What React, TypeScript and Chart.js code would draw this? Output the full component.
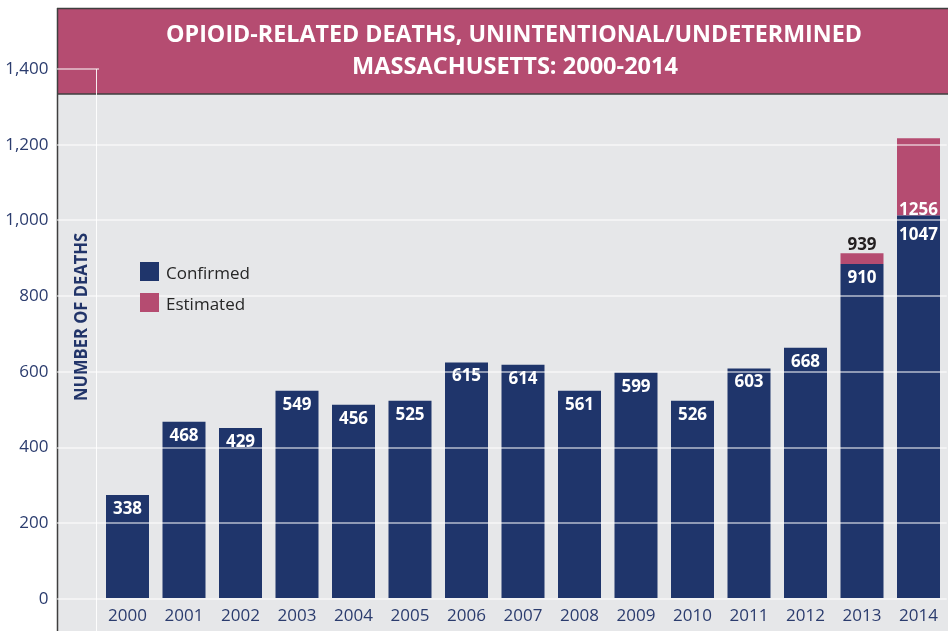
import { useEffect, useRef } from "react";
import { Chart, registerables } from "chart.js";

Chart.register(...registerables);

// ---- Data ----
const years = ["2000", "2001", "2002", "2003", "2004", "2005", "2006", "2007", "2008", "2009", "2010", "2011", "2012", "2013", "2014"];
// bar heights as drawn against the axis
const confirmedBars = [275, 468, 452, 550, 513, 524, 625, 619, 550, 598, 524, 609, 664, 885, 1013];
const estimatedBars = [null, null, null, null, null, null, null, null, null, null, null, null, null, 28, 204];
// numbers printed on the bars
const confirmedLabels = ["338", "468", "429", "549", "456", "525", "615", "614", "561", "599", "526", "603", "668", "910", "1047"];
const totalLabels = [null, null, null, null, null, null, null, null, null, null, null, null, null, "939", "1256"];
const yTicks = [0, 200, 400, 600, 800, 1000, 1200, 1400];
const titleLines = ["OPIOID-RELATED DEATHS, UNINTENTIONAL/UNDETERMINED", "MASSACHUSETTS: 2000-2014"];
const yTitle = "NUMBER OF DEATHS";
const seriesNames = ["Confirmed", "Estimated"];

const NAVY = "#1f356b";
const PINK = "#b54c71";
const AXIS_TEXT = "#2b3c6e";
const FONT = "'Open Sans', 'Noto Sans', sans-serif";

const framePlugin = {
  id: "frame",
  beforeDraw(chart: any) {
    const ctx = chart.ctx as CanvasRenderingContext2D;
    const W = chart.width;
    const H = chart.height;
    ctx.save();
    ctx.fillStyle = "#e6e7e9";
    ctx.fillRect(57, 94, W - 57, H - 94);
    ctx.fillStyle = PINK;
    ctx.fillRect(57, 8, W - 57, 86);
    // title
    ctx.fillStyle = "#ffffff";
    ctx.font = `bold 24px ${FONT}`;
    ctx.textAlign = "center";
    ctx.textBaseline = "alphabetic";
    ctx.fillText(titleLines[0], 514, 33 + 8.6, 696);
    ctx.fillText(titleLines[1], 515, 65 + 8.6, 326);
    // borders
    ctx.strokeStyle = "#3f3f3f";
    ctx.lineWidth = 1.5;
    ctx.beginPath();
    ctx.moveTo(57, 8.5);
    ctx.lineTo(W, 8.5);
    ctx.moveTo(57, 94);
    ctx.lineTo(W, 94);
    ctx.moveTo(57.5, 8);
    ctx.lineTo(57.5, H);
    ctx.stroke();
    ctx.restore();
  },
  afterDraw(chart: any) {
    const ctx = chart.ctx as CanvasRenderingContext2D;
    const H = chart.height;
    ctx.save();
    // inner vertical rule
    ctx.strokeStyle = "rgba(255,255,255,0.9)";
    ctx.lineWidth = 1;
    ctx.beginPath();
    ctx.moveTo(96.5, chart.scales.y.getPixelForValue(1400));
    ctx.lineTo(96.5, H);
    ctx.stroke();

    // y title
    ctx.save();
    ctx.translate(81, 317);
    ctx.rotate(-Math.PI / 2);
    ctx.fillStyle = "#213469";
    ctx.font = `bold 17px ${FONT}`;
    ctx.textAlign = "center";
    ctx.textBaseline = "alphabetic";
    ctx.fillText(yTitle, 0, 6, 168);
    ctx.restore();

    // legend
    const colors = [NAVY, PINK];
    ctx.font = `17px ${FONT}`;
    ctx.textAlign = "left";
    ctx.textBaseline = "alphabetic";
    seriesNames.forEach((name, i) => {
      const top = 262 + i * 31;
      ctx.fillStyle = colors[i];
      ctx.fillRect(140, top, 19, 19);
      ctx.fillStyle = "#262626";
      ctx.fillText(name, 166, top + 11 + 6);
    });

    // bar labels
    const m0 = chart.getDatasetMeta(0);
    const m1 = chart.getDatasetMeta(1);
    ctx.font = `bold 17px ${FONT}`;
    ctx.textAlign = "center";
    years.forEach((_, i) => {
      const bar = m0.data[i] as any;
      const x = bar.x;
      const boundary = bar.y;
      const total = totalLabels[i];
      const est = m1.data[i] as any;
      if (total && est && estimatedBars[i] != null) {
        const top = est.y;
        if (boundary - top > 30) {
          ctx.fillStyle = "#ffffff";
          ctx.fillText(total, x, boundary - 1);
          ctx.fillText(confirmedLabels[i], x, boundary + 24);
        } else {
          ctx.fillStyle = "#231f20";
          ctx.fillText(total, x, top - 3);
          ctx.fillStyle = "#ffffff";
          ctx.fillText(confirmedLabels[i], x, boundary + 19);
        }
      } else {
        ctx.fillStyle = "#ffffff";
        ctx.fillText(confirmedLabels[i], x, boundary + 19);
      }
    });
    ctx.restore();
  },
};

export default function App() {
  const ref = useRef<HTMLCanvasElement | null>(null);
  useEffect(() => {
    if (!ref.current) return;
    const chart = new Chart(ref.current, {
      type: "bar",
      data: {
        labels: years,
        datasets: [
          {
            label: seriesNames[0],
            data: confirmedBars,
            backgroundColor: NAVY,
            borderWidth: 0,
            categoryPercentage: 1,
            barPercentage: 0.761,
          },
          {
            label: seriesNames[1],
            data: estimatedBars as any,
            backgroundColor: PINK,
            borderWidth: 0,
            categoryPercentage: 1,
            barPercentage: 0.761,
          },
        ],
      },
      options: {
        animation: false,
        responsive: false,
        maintainAspectRatio: false,
        devicePixelRatio: 1,
        layout: { padding: { left: 0, right: 1.25, top: 69, bottom: 0 } },
        plugins: {
          legend: { display: false },
          tooltip: { enabled: false },
          title: { display: false },
        },
        scales: {
          x: {
            stacked: true,
            grid: { display: false, drawTicks: false },
            border: { display: false },
            ticks: { color: AXIS_TEXT, font: { family: FONT, size: 17 }, padding: 7, maxRotation: 0 },
            afterFit: (s: any) => {
              s.height = 32;
            },
          },
          y: {
            stacked: true,
            min: 0,
            max: 1400,
            afterBuildTicks: (s: any) => {
              s.ticks = yTicks.map((v) => ({ value: v }));
            },
            ticks: {
              color: AXIS_TEXT,
              font: { family: FONT, size: 17 },
              padding: 8.5,
              callback: (v: any) => Number(v).toLocaleString("en-US"),
            },
            grid: {
              z: 1,
              lineWidth: 2,
              color: (c: any) => (c.tick && c.tick.value === 1400 ? "rgba(0,0,0,0)" : "rgba(255,255,255,0.5)"),
              tickColor: "rgba(255,255,255,0.5)",
              tickLength: 42.25,
              drawTicks: true,
            },
            border: { display: false },
            afterFit: (s: any) => {
              s.width = 99.25;
            },
          },
        },
      },
      plugins: [framePlugin],
    });
    return () => chart.destroy();
  }, []);
  return (
    <div style={{ position: "fixed", left: 0, top: 0, width: 948, height: 631, background: "#ffffff" }}>
      <canvas ref={ref} width={948} height={631} style={{ display: "block", width: 948, height: 631 }} />
    </div>
  );
}
